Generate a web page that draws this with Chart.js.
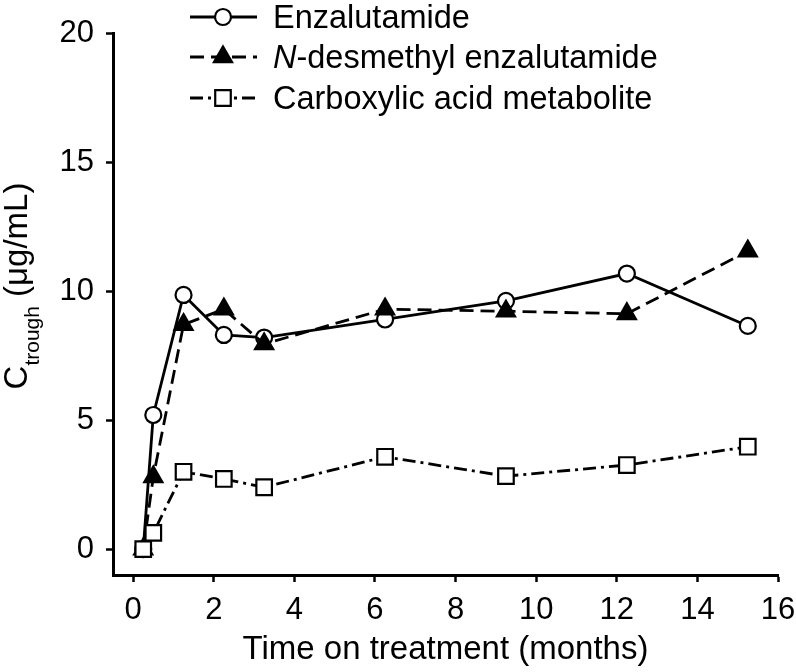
<!DOCTYPE html>
<html>
<head>
<meta charset="utf-8">
<script src="https://cdn.jsdelivr.net/npm/chart.js@4.4.0/dist/chart.umd.min.js"></script>
<style>
  html, body { margin: 0; padding: 0; background: #fff; }
  #wrap { width: 796px; height: 672px; }
</style>
</head>
<body>
<div id="wrap"><canvas id="chart" width="796" height="672"></canvas></div>
<script>
// Data (months, ug/mL)
const timeMonths = [0.25, 0.5, 1.25, 2.25, 3.25, 6.25, 9.25, 12.25, 15.25];
const enzalutamide = [0, 5.2, 9.85, 8.3, 8.2, 8.9, 9.62, 10.68, 8.65];
const nDesmethyl = [0, 2.8, 8.7, 9.3, 7.95, 9.3, 9.22, 9.12, 11.55];
const carboxylic = [0, 0.63, 3.0, 2.72, 2.4, 3.58, 2.83, 3.26, 3.97];

const seriesLabels = ['Enzalutamide', 'N-desmethyl enzalutamide', 'Carboxylic acid metabolite'];
// legend text pieces: [text, italic]
const legendParts = [
  [['Enzalutamide', false]],
  [['N', true], ['-desmethyl enzalutamide', false]],
  [['Carboxylic acid metabolite', false]]
];
const xTicks = [0, 2, 4, 6, 8, 10, 12, 14, 16];
const yTicks = [0, 5, 10, 15, 20];
const xTitle = 'Time on treatment (months)';
const yTitleParts = ['C', 'trough', ' (μg/mL)'];

const FONT = '"Liberation Sans", Arial, Helvetica, sans-serif';

function pts(ys) { return timeMonths.map((x, i) => ({ x: x, y: ys[i] })); }

// legend + y title drawn by hand (subscript / italic N)
const extras = {
  id: 'extras',
  afterDraw(chart) {
    const ctx = chart.ctx;
    ctx.save();
    ctx.fillStyle = '#000';

    // y axis title, rotated
    ctx.translate(27, 286);
    ctx.rotate(-Math.PI / 2);
    ctx.textBaseline = 'alphabetic';
    const mainF = '33px ' + FONT, subF = '21px ' + FONT;
    ctx.font = mainF;
    const w0 = ctx.measureText(yTitleParts[0]).width;
    const w2 = ctx.measureText(yTitleParts[2]).width;
    ctx.font = subF;
    const w1 = ctx.measureText(yTitleParts[1]).width;
    let tx = -(w0 + w1 + w2) / 2;
    ctx.font = mainF; ctx.fillText(yTitleParts[0], tx, 0); tx += w0;
    ctx.font = subF; ctx.fillText(yTitleParts[1], tx, 12); tx += w1;
    ctx.font = mainF; ctx.fillText(yTitleParts[2], tx, 0);
    ctx.restore();

    // legend
    const rowY = [17, 57, 98];
    chart.data.datasets.forEach((ds, i) => {
      const y = rowY[i];
      ctx.save();
      ctx.strokeStyle = '#000';
      ctx.lineWidth = ds.borderWidth;
      ctx.setLineDash(ds.borderDash || []);
      ctx.beginPath(); ctx.moveTo(190, y); ctx.lineTo(257, y); ctx.stroke();
      ctx.setLineDash([]);
      ctx.lineWidth = ds.pointBorderWidth;
      ctx.fillStyle = ds.pointBackgroundColor;
      Chart.helpers.drawPoint(ctx, { pointStyle: ds.pointStyle, radius: ds.pointRadius, rotation: 0, borderWidth: ds.pointBorderWidth }, 223, y);
      ctx.fillStyle = '#000';
      ctx.textBaseline = 'alphabetic';
      let x = 273;
      for (const [t, it] of legendParts[i]) {
        ctx.font = (it ? 'italic ' : '') + '32.5px ' + FONT;
        ctx.fillText(t, x, y + 11);
        x += ctx.measureText(t).width;
      }
      ctx.restore();
    });
  }
};

const common = { borderColor: '#000', pointBorderColor: '#000', pointBorderWidth: 2.2, borderWidth: 2.8, tension: 0, clip: false };

// keep the plot box fixed: ignore label overflow at the axis ends
function noEdgePad(s) { s.paddingLeft = 0; s.paddingRight = 0; s.paddingTop = 0; s.paddingBottom = 0; }

new Chart(document.getElementById('chart'), {
  type: 'line',
  data: {
    datasets: [
      Object.assign({ label: seriesLabels[0], data: pts(enzalutamide), pointStyle: 'circle', pointRadius: 8, pointBackgroundColor: '#fff', borderDash: [], order: 3 }, common),
      Object.assign({ label: seriesLabels[1], data: pts(nDesmethyl), pointStyle: 'triangle', pointRadius: 10.5, pointBackgroundColor: '#000', borderDash: [14, 7], order: 2 }, common),
      Object.assign({ label: seriesLabels[2], data: pts(carboxylic), pointStyle: 'rect', pointRadius: 11, pointBackgroundColor: '#fff', borderDash: [13, 5, 3, 5], order: 1 }, common)
    ]
  },
  options: {
    responsive: false,
    animation: false,
    devicePixelRatio: 1,
    layout: { padding: { left: 0, right: 18, top: 33, bottom: 0 } },
    plugins: { legend: { display: false }, tooltip: { enabled: false } },
    scales: {
      x: {
        type: 'linear', min: -0.5, max: 16,
        afterBuildTicks: s => { s.ticks = xTicks.map(v => ({ value: v })); },
        afterFit: s => { s.height = 97; noEdgePad(s); },
        grid: { display: true, drawOnChartArea: false, drawTicks: true, tickLength: 7, tickWidth: 2.5, tickColor: '#000' },
        border: { display: true, color: '#000', width: 3 },
        ticks: { color: '#000', font: { family: FONT, size: 31 }, padding: 10 },
        title: { display: true, text: xTitle, color: '#000', font: { family: FONT, size: 33 }, padding: { top: 0, bottom: 2 } }
      },
      y: {
        type: 'linear', min: -1, max: 20,
        afterBuildTicks: s => { s.ticks = yTicks.map(v => ({ value: v })); },
        afterFit: s => { s.width = 113; noEdgePad(s); },
        grid: { display: true, drawOnChartArea: false, drawTicks: true, tickLength: 7, tickWidth: 2.5, tickColor: '#000' },
        border: { display: true, color: '#000', width: 3 },
        ticks: { color: '#000', font: { family: FONT, size: 31 }, padding: 12 }
      }
    }
  },
  plugins: [extras]
});
</script>
</body>
</html>
